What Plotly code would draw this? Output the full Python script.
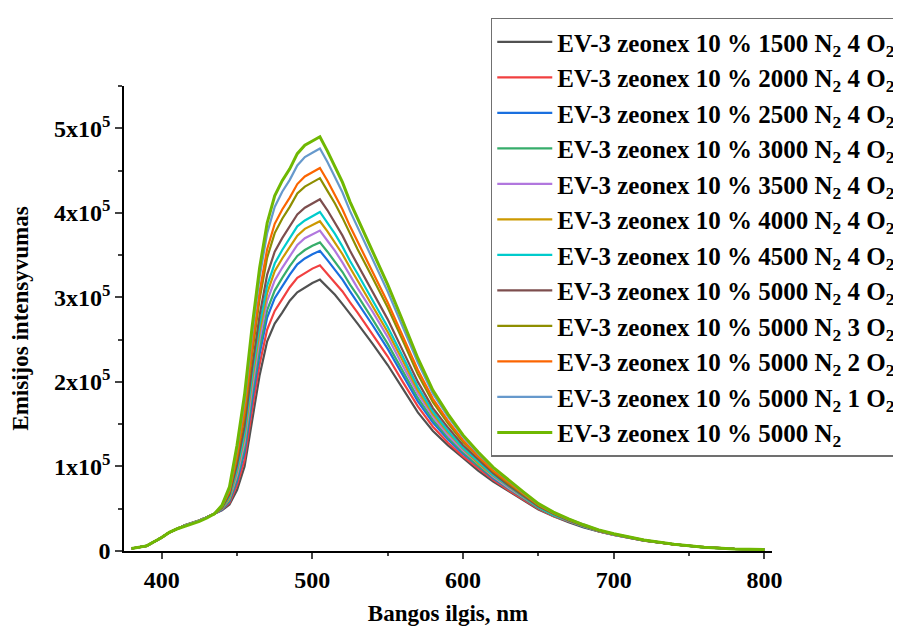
import plotly.graph_objects as go

# Wavelength grid (nm)
wavelength = [380, 390, 400, 405, 410, 415, 420, 425, 430, 435,
              440, 445, 450, 455, 460, 465, 470, 475, 480, 485, 490, 495, 500, 505, 510, 515, 520, 525, 530,
              540, 550, 560, 570, 580, 590, 600, 610, 620, 630, 640, 650, 660, 670, 680, 690, 700,
              720, 740, 760, 780, 800]

# Emission intensity, in thousands of counts (x10^3)
low_common = [3, 6, 16, 22, 26, 30, 33, 36, 40, 44]
low_green = [3, 6, 16, 22, 26, 29, 32, 35, 39, 44]

s1500_4 = low_common + [48, 55, 72, 100, 156, 208, 248, 269, 282, 296, 306, 312, 317, 321, 312, 303, 292, 281, 269,
                        245, 220, 192, 164, 142, 125, 110, 95, 82, 71, 60, 49, 41, 34, 28, 23, 19,
                        12.2, 7.7, 4.4, 2.5, 1.7]
s2000_4 = low_common + [49, 57, 78, 108, 167, 221, 262, 284, 298, 312, 323, 329, 334, 338, 328, 318, 307, 294, 282,
                        256, 230, 200, 171, 147, 128, 112, 98, 84, 72, 61, 50, 41, 35, 28.5, 23, 19.1,
                        12.3, 7.7, 4.4, 2.5, 1.7]
s2500_4 = low_common + [49, 59, 83, 117, 178, 233, 276, 299, 313, 327, 339, 346, 351, 355, 344, 333, 321, 307, 294,
                        267, 239, 208, 177, 152, 132, 115, 100, 86, 74, 62, 51, 42, 35, 28.8, 23.3, 19.2,
                        12.4, 7.8, 4.4, 2.5, 1.7]
s3000_4 = low_common + [50, 60, 86, 122, 185, 241, 285, 308, 323, 337, 349, 356, 361, 365, 354, 342, 330, 315, 302,
                        274, 245, 213, 181, 155, 134, 117, 101, 87, 74, 63, 51, 42, 35, 28.9, 23.4, 19.3,
                        12.4, 7.8, 4.4, 2.5, 1.7]
s3500_4 = low_common + [50, 62, 90, 129, 193, 251, 296, 320, 335, 349, 362, 370, 375, 379, 367, 355, 341, 326, 311,
                        283, 253, 219, 186, 159, 137, 119, 103, 88, 75, 64, 52, 43, 35.5, 29.2, 23.6, 19.4,
                        12.5, 7.8, 4.4, 2.5, 1.7]
s4000_4 = low_common + [50, 63, 94, 135, 201, 260, 305, 331, 346, 360, 373, 381, 386, 390, 378, 365, 351, 335, 320,
                        290, 259, 225, 190, 162, 140, 121, 104, 89, 76, 64, 52, 43, 35.8, 29.3, 23.8, 19.6,
                        12.5, 7.8, 4.4, 2.5, 1.7]
s4500_4 = low_common + [51, 65, 97, 140, 208, 268, 314, 340, 356, 370, 384, 391, 396, 401, 388, 375, 360, 343, 328,
                        297, 265, 230, 194, 165, 142, 122, 106, 90, 77, 65, 52, 43, 36, 29.5, 23.9, 19.7,
                        12.6, 7.8, 4.4, 2.5, 1.7]
s5000_4 = low_common + [51, 67, 102, 148, 217, 279, 327, 354, 370, 384, 398, 406, 411, 416, 403, 388, 373, 355, 339,
                        307, 274, 237, 200, 169, 146, 125, 108, 92, 78, 66, 53, 44, 36.3, 29.8, 24.1, 19.8,
                        12.6, 7.9, 4.5, 2.5, 1.7]
s5000_3 = low_common + [52, 70, 110, 160, 233, 298, 347, 376, 393, 407, 423, 431, 436, 441, 426, 411, 394, 375, 357,
                        323, 288, 249, 209, 176, 151, 129, 111, 94, 80, 67, 54, 44.5, 36.9, 30.2, 24.4, 20,
                        12.8, 7.9, 4.5, 2.5, 1.7]
s5000_2 = low_common + [53, 71, 113, 166, 241, 307, 357, 387, 404, 418, 434, 443, 448, 453, 438, 421, 404, 384, 366,
                        331, 294, 254, 214, 180, 154, 131, 112, 95, 81, 68, 54.5, 44.9, 37.2, 30.4, 24.5, 20.1,
                        12.8, 7.9, 4.5, 2.5, 1.7]
s5000_1 = low_common + [53.5, 74, 121, 178, 256, 324, 376, 407, 425, 439, 456, 466, 471, 476, 460, 442, 424, 402, 383,
                        346, 307, 265, 223, 186, 159, 135, 115, 98, 83, 69, 55.4, 45.6, 37.7, 30.8, 24.8, 20.4,
                        12.9, 8.0, 4.5, 2.5, 1.7]
s5000_0 = low_green + [54, 76, 125, 185, 265, 335, 388, 420, 438, 452, 470, 480, 485, 490, 473, 455, 436, 413, 393,
                       355, 315, 272, 228, 190, 162, 137, 117, 99, 84, 70, 56, 46, 38, 31, 25, 20.5,
                       13, 8, 4.5, 2.5, 1.7]

series_names = [
    "EV-3 zeonex 10 % 1500 N<sub>2</sub> 4 O<sub>2</sub>",
    "EV-3 zeonex 10 % 2000 N<sub>2</sub> 4 O<sub>2</sub>",
    "EV-3 zeonex 10 % 2500 N<sub>2</sub> 4 O<sub>2</sub>",
    "EV-3 zeonex 10 % 3000 N<sub>2</sub> 4 O<sub>2</sub>",
    "EV-3 zeonex 10 % 3500 N<sub>2</sub> 4 O<sub>2</sub>",
    "EV-3 zeonex 10 % 4000 N<sub>2</sub> 4 O<sub>2</sub>",
    "EV-3 zeonex 10 % 4500 N<sub>2</sub> 4 O<sub>2</sub>",
    "EV-3 zeonex 10 % 5000 N<sub>2</sub> 4 O<sub>2</sub>",
    "EV-3 zeonex 10 % 5000 N<sub>2</sub> 3 O<sub>2</sub>",
    "EV-3 zeonex 10 % 5000 N<sub>2</sub> 2 O<sub>2</sub>",
    "EV-3 zeonex 10 % 5000 N<sub>2</sub> 1 O<sub>2</sub>",
    "EV-3 zeonex 10 % 5000 N<sub>2</sub>",
]
series_values = [s1500_4, s2000_4, s2500_4, s3000_4, s3500_4, s4000_4,
                 s4500_4, s5000_4, s5000_3, s5000_2, s5000_1, s5000_0]
colors = ["#515151", "#F14040", "#1A6FDF", "#37AD6B", "#B177DE", "#CC9900",
          "#00CBCC", "#7D4E4E", "#8E8E00", "#FB6501", "#6699CC", "#6FB802"]

ytick_vals = [0, 100000, 200000, 300000, 400000, 500000]
ytick_text = ["0", "1x10<sup>5</sup>", "2x10<sup>5</sup>", "3x10<sup>5</sup>", "4x10<sup>5</sup>", "5x10<sup>5</sup>"]
xtick_vals = [400, 500, 600, 700, 800]

FONT = "Liberation Serif"

fig = go.Figure()
for i, (name, vals, col) in enumerate(zip(series_names, series_values, colors)):
    fig.add_trace(go.Scatter(
        x=wavelength, y=[v * 1000 for v in vals], mode="lines", name=name,
        line=dict(color=col, width=3 if i == len(series_names) - 1 else 2.2),
        legendgroup=f"g{i}",
    ))

# The page adds an 8 px body margin, so the figure is sized to fit the 901x626 window.
fig.update_layout(
    width=893, height=618,
    margin=dict(l=116, r=129, t=78, b=75, autoexpand=False),
    paper_bgcolor="white", plot_bgcolor="white",
    font=dict(family=FONT, size=24, color="black", weight="bold"),
    showlegend=True,
    legend=dict(
        x=0.566, y=1.147, xanchor="left", yanchor="top",
        bgcolor="white", bordercolor="#707070", borderwidth=1.5,
        font=dict(family=FONT, size=25, color="black", weight="bold"),
        tracegroupgap=5.7, traceorder="normal", itemwidth=55, maxheight=600,
    ),
)
fig.update_xaxes(
    range=[375, 805], tickvals=xtick_vals, ticks="outside", ticklen=6, tickwidth=1.5,
    showline=True, linecolor="black", linewidth=1.5, showgrid=False, zeroline=False, automargin=False,
    minor=dict(dtick=50, tick0=0, ticks="outside", ticklen=3, tickwidth=1.5, showgrid=False),
    tickfont=dict(family=FONT, size=24, weight="bold"),
    title=dict(text="Bangos ilgis, nm", font=dict(family=FONT, size=23, weight="bold"), standoff=13),
)
fig.update_yaxes(
    range=[0, 550000], tickvals=ytick_vals, ticktext=ytick_text, ticks="outside", ticklen=7, tickwidth=1.5,
    showline=True, linecolor="black", linewidth=1.5, showgrid=False, zeroline=False, automargin=False,
    minor=dict(dtick=50000, tick0=0, ticks="outside", ticklen=4, tickwidth=1.5, showgrid=False),
    tickfont=dict(family=FONT, size=24, weight="bold"),
    title=dict(text="Emisijos intensyvumas", font=dict(family=FONT, size=23, weight="bold"), standoff=19),
)

fig.write_html("out.html")
